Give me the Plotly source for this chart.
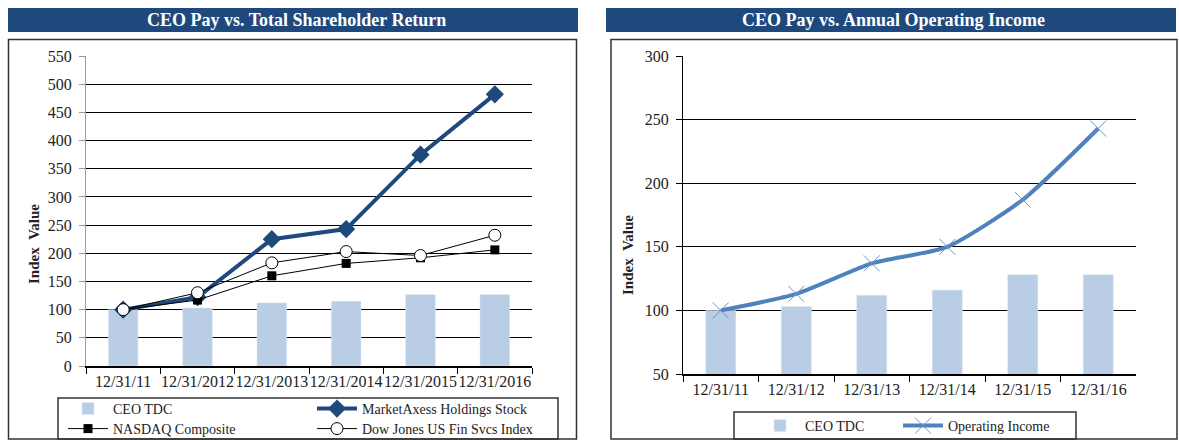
import plotly.graph_objects as go

W, H = 1179, 440

# ---------------- data ----------------
tsr_categories = ["12/31/11", "12/31/2012", "12/31/2013", "12/31/2014", "12/31/2015", "12/31/2016"]
ceo_tdc_left = [100, 103, 112, 115, 127, 127]
marketaxess = [100, 122, 225, 243, 375, 482]
nasdaq = [100, 117, 160, 182, 192, 206]
dow_jones = [100, 130, 183, 203, 196, 232]

oi_categories = ["12/31/11", "12/31/12", "12/31/13", "12/31/14", "12/31/15", "12/31/16"]
ceo_tdc_right = [100, 103, 112, 116, 128, 128]
operating_income = [100, 113, 137, 150, 187, 243]

left_ticks = list(range(0, 551, 50))
right_ticks = list(range(50, 301, 50))

# ---------------- helpers ----------------
def px(x):
    return x / W

def py(y):
    return 1 - y / H

SERIF = "Liberation Serif"
NAVY = "#1F497D"
BAR = "#B9CDE5"
TXT = "#222222"

fig = go.Figure()

# left chart traces
fig.add_trace(go.Bar(x=tsr_categories, y=ceo_tdc_left, name="CEO TDC", marker_color=BAR,
                     width=0.4, xaxis="x", yaxis="y", legend="legend"))
fig.add_trace(go.Scatter(x=tsr_categories, y=marketaxess, name="MarketAxess Holdings Stock",
                         mode="lines+markers", line=dict(color=NAVY, width=4),
                         marker=dict(symbol="diamond", size=14, color=NAVY),
                         xaxis="x", yaxis="y", legend="legend2"))
fig.add_trace(go.Scatter(x=tsr_categories, y=nasdaq, name="NASDAQ Composite",
                         mode="lines+markers", line=dict(color="black", width=1),
                         marker=dict(symbol="square", size=9, color="black"),
                         xaxis="x", yaxis="y", legend="legend3"))
fig.add_trace(go.Scatter(x=tsr_categories, y=dow_jones, name="Dow Jones US Fin Svcs Index",
                         mode="lines+markers", line=dict(color="black", width=1),
                         marker=dict(symbol="circle", size=12, color="white",
                                     line=dict(color="black", width=1)),
                         xaxis="x", yaxis="y", legend="legend4"))

# right chart traces
fig.add_trace(go.Bar(x=oi_categories, y=ceo_tdc_right, name="CEO TDC", marker_color=BAR,
                     width=0.4, xaxis="x2", yaxis="y2", legend="legend5"))
fig.add_trace(go.Scatter(x=oi_categories, y=operating_income, name="Operating Income",
                         mode="lines+markers", line=dict(color="#4F81BD", width=4, shape="spline", smoothing=0.6),
                         marker=dict(symbol="x-thin", size=16, color="#4F81BD",
                                     line=dict(color="#6F95C8", width=1)),
                         xaxis="x2", yaxis="y2", legend="legend6"))

def tickfont():
    return dict(family=SERIF, size=16, color=TXT)

def xaxis_common():
    return dict(type="category", tickson="boundaries", ticks="outside", ticklen=6, tickangle=0,
                tickcolor="black", showline=True, linecolor="black", linewidth=1.5,
                showgrid=False, tickfont=tickfont(), fixedrange=True, automargin=False)

def yaxis_common():
    return dict(showgrid=True, gridcolor="black", gridwidth=1, zeroline=False,
                ticks="outside", ticklen=6, tickfont=tickfont(), showline=True, fixedrange=True,
                automargin=False, ticklabelstandoff=4)

fig.update_layout(
    width=W, height=H,
    showlegend=True,
    font=dict(family=SERIF, size=14, color=TXT),
    margin=dict(l=0, r=0, t=0, b=0, autoexpand=False),
    paper_bgcolor="white", plot_bgcolor="white",
    bargap=0.6,
    xaxis=dict(domain=[px(86), px(532)], anchor="y", **xaxis_common()),
    yaxis=dict(domain=[py(366), py(56)], anchor="x", range=[0, 550], tickvals=left_ticks,
               linecolor="#999999", tickcolor="#999999", **yaxis_common()),
    xaxis2=dict(domain=[px(683), px(1136)], anchor="y2", **xaxis_common()),
    yaxis2=dict(domain=[py(374), py(56)], anchor="x2", range=[50, 300], tickvals=right_ticks,
                linecolor="black", tickcolor="black", **yaxis_common()),
)

def leg(x, y):
    return dict(x=px(x), y=py(y), xanchor="left", yanchor="middle", orientation="h",
                bgcolor="rgba(0,0,0,0)", borderwidth=0,
                font=dict(family=SERIF, size=14, color=TXT), itemwidth=40)

fig.update_layout(
    legend=leg(63, 409),
    legend2=leg(312, 409),
    legend3=leg(63, 429),
    legend4=leg(312, 429),
    legend5=leg(755, 426),
    legend6=leg(898, 426),
)

shapes = [
    # title bars
    dict(type="rect", xref="paper", yref="paper", x0=px(8), x1=px(578), y0=py(32), y1=py(8),
         fillcolor=NAVY, line=dict(width=0), layer="below"),
    dict(type="rect", xref="paper", yref="paper", x0=px(606), x1=px(1176), y0=py(32), y1=py(8),
         fillcolor=NAVY, line=dict(width=0), layer="below"),
    # panel borders
    dict(type="rect", xref="paper", yref="paper", x0=px(8.5), x1=px(576.5), y0=py(439), y1=py(39.5),
         line=dict(color="#333333", width=1.5), layer="below"),
    dict(type="rect", xref="paper", yref="paper", x0=px(611), x1=px(1177), y0=py(439), y1=py(39.5),
         line=dict(color="#333333", width=1.5), layer="below"),
    # legend boxes
    dict(type="rect", xref="paper", yref="paper", x0=px(58), x1=px(558), y0=py(439), y1=py(398),
         line=dict(color="#333333", width=1.5), layer="below"),
    dict(type="rect", xref="paper", yref="paper", x0=px(734), x1=px(1076), y0=py(439), y1=py(412),
         line=dict(color="#333333", width=1.5), layer="below"),
]
fig.update_layout(shapes=shapes)

title_font = dict(family=SERIF, size=18, color="white")
axis_title_font = dict(family=SERIF, size=15, color=TXT)
annotations = [
    dict(text="<b>CEO Pay vs. Total Shareholder Return</b>", xref="paper", yref="paper",
         x=px(296), y=py(20), xanchor="center", yanchor="middle", showarrow=False, font=title_font),
    dict(text="<b>CEO Pay vs. Annual Operating Income</b>", xref="paper", yref="paper",
         x=px(893), y=py(20), xanchor="center", yanchor="middle", showarrow=False, font=title_font),
    dict(text="<b>Index  Value</b>", xref="paper", yref="paper", x=px(34), y=py(244),
         xanchor="center", yanchor="middle", textangle=-90, showarrow=False, font=axis_title_font),
    dict(text="<b>Index  Value</b>", xref="paper", yref="paper", x=px(628), y=py(255),
         xanchor="center", yanchor="middle", textangle=-90, showarrow=False, font=axis_title_font),
]
fig.update_layout(annotations=annotations)

fig.write_html("out.html", config={"displayModeBar": False},
               post_script="document.body.style.margin='0';document.body.style.padding='0';")
